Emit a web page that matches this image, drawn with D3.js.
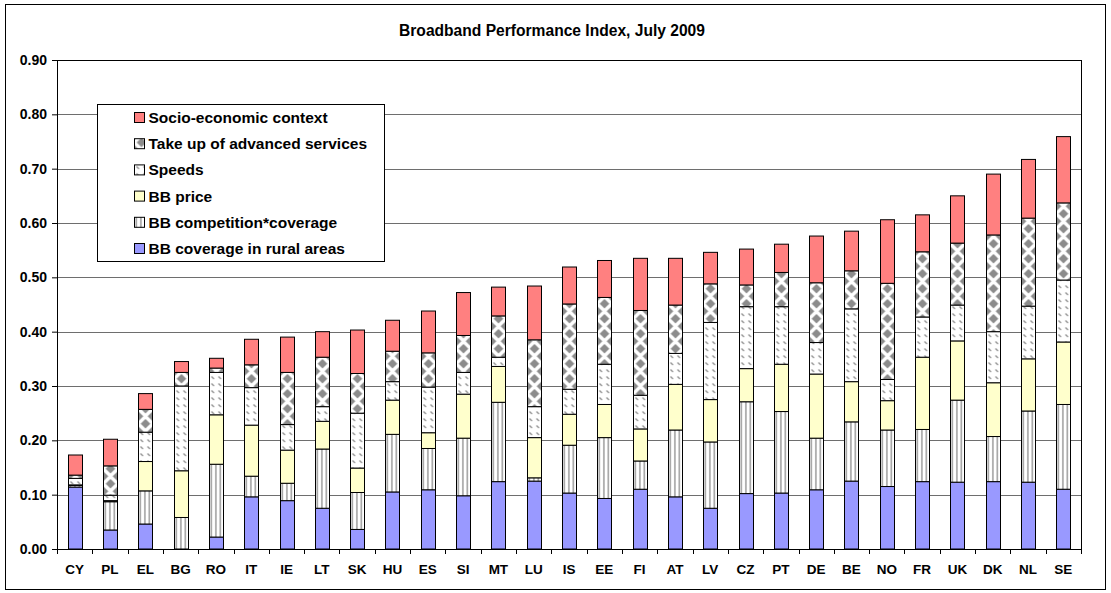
<!DOCTYPE html>
<html>
<head>
<meta charset="utf-8">
<script src="https://cdn.jsdelivr.net/npm/d3@7"></script>
<style>
  body { margin: 0; background: #fff; }
  svg text { font-family: "Liberation Sans", Arial, sans-serif; font-weight: bold; fill: #000; }
</style>
</head>
<body>
<div id="chart"></div>
<script>
// Values (stack order: bottom -> top)
const countries = ['CY','PL','EL','BG','RO','IT','IE','LT','SK','HU','ES','SI','MT','LU','IS',
  'EE','FI','AT','LV','CZ','PT','DE','BE','NO','FR','UK','DK','NL','SE'];
const ruralCoverage = [.114,.035,.046,.000,.022,.096,.089,.075,.036,.105,.109,.098,.124,.125,.103,
  .093,.110,.096,.075,.102,.103,.109,.125,.115,.124,.123,.124,.123,.110];
const competitionCoverage = [.003,.052,.061,.058,.134,.038,.032,.109,.068,.106,.076,.106,.146,.006,.088,
  .112,.052,.123,.122,.169,.150,.095,.109,.104,.096,.151,.083,.131,.156];
const bbPrice = [.001,.002,.054,.086,.091,.094,.061,.051,.045,.063,.029,.081,.066,.074,.057,
  .061,.059,.084,.078,.061,.087,.118,.074,.054,.133,.109,.099,.096,.115];
const speeds = [.012,.010,.054,.156,.078,.069,.047,.027,.101,.034,.084,.040,.017,.057,.046,
  .074,.062,.057,.142,.114,.106,.058,.134,.039,.074,.066,.094,.097,.114];
const takeUp = [.006,.054,.042,.025,.008,.042,.096,.091,.073,.056,.063,.068,.076,.123,.157,
  .123,.156,.089,.071,.040,.063,.110,.070,.177,.120,.114,.178,.162,.142];
const socioEconomic = [.037,.049,.029,.020,.018,.047,.065,.047,.080,.057,.077,.079,.053,.099,.068,
  .068,.096,.086,.058,.066,.052,.086,.073,.117,.068,.087,.112,.108,.122];

const seriesNames = ['BB coverage in rural areas','BB competition*coverage','BB price',
  'Speeds','Take up of advanced services','Socio-economic context'];
const yTicks = [0, .1, .2, .3, .4, .5, .6, .7, .8, .9];

class StackedBarChart {

  constructor(_config) {
    this.config = {
      parentElement: _config.parentElement,
      containerWidth: 1111,
      containerHeight: 593,
      margin: {top: 60, right: 30, bottom: 44, left: 57}
    };
    this.initVis();
  }

  initVis() {
    let vis = this;
    vis.width = vis.config.containerWidth - vis.config.margin.left - vis.config.margin.right;
    vis.height = vis.config.containerHeight - vis.config.margin.top - vis.config.margin.bottom;

    vis.keys = ['rural', 'comp', 'price', 'speeds', 'takeup', 'socio'];
    vis.fills = {
      rural: '#9999ff',
      comp: 'url(#pComp)',
      price: '#ffffcc',
      speeds: 'url(#pSpeeds)',
      takeup: 'url(#pTakeup)',
      socio: '#ff8080'
    };

    vis.xScale = d3.scaleBand().domain(countries).range([0, vis.width]);
    vis.yScale = d3.scaleLinear().domain([0, 0.9]).range([vis.height, 0]);

    vis.svg = d3.select(vis.config.parentElement).append('svg')
      .attr('width', vis.config.containerWidth)
      .attr('height', vis.config.containerHeight);

    // outer frame
    vis.svg.append('rect')
      .attr('x', 5.5).attr('y', 4.5)
      .attr('width', 1100).attr('height', 585)
      .attr('fill', 'none').attr('stroke', '#000');

    vis.svg.append('text')
      .attr('x', 552).attr('y', 36)
      .attr('text-anchor', 'middle')
      .attr('font-size', 15.6)
      .text('Broadband Performance Index, July 2009');

    const defs = vis.svg.append('defs');

    // vertical stripes
    const pc = defs.append('pattern').attr('id', 'pComp')
      .attr('patternUnits', 'userSpaceOnUse').attr('width', 4.5).attr('height', 4);
    pc.append('rect').attr('width', 4.5).attr('height', 4).attr('fill', '#fff');
    pc.append('rect').attr('x', 1.2).attr('width', 1.3).attr('height', 4).attr('fill', '#8c8c8c');

    // small diagonal dashes
    const ps = defs.append('pattern').attr('id', 'pSpeeds')
      .attr('patternUnits', 'userSpaceOnUse').attr('width', 7).attr('height', 7);
    ps.append('rect').attr('width', 7).attr('height', 7).attr('fill', '#fff');
    ps.append('line').attr('x1', 2).attr('y1', 1.5).attr('x2', 4.5).attr('y2', 4)
      .attr('stroke', '#8c8c8c').attr('stroke-width', 1.2);

    // diamonds
    const pt = defs.append('pattern').attr('id', 'pTakeup')
      .attr('patternUnits', 'userSpaceOnUse').attr('width', 14).attr('height', 15);
    pt.append('rect').attr('width', 14).attr('height', 15).attr('fill', '#fff');
    [[7, 3.75], [0, 11.25], [14, 11.25], [7, 18.75], [0, -3.75], [14, -3.75]].forEach(([cx, cy]) => {
      pt.append('path')
        .attr('d', `M${cx},${cy - 4.8}L${cx + 4.8},${cy}L${cx},${cy + 4.8}L${cx - 4.8},${cy}Z`)
        .attr('fill', '#8c8c8c');
    });

    vis.chartArea = vis.svg.append('g')
      .attr('transform', `translate(${vis.config.margin.left},${vis.config.margin.top})`);

    vis.gridG = vis.chartArea.append('g');
    vis.chart = vis.chartArea.append('g');
    vis.xAxisG = vis.chartArea.append('g').attr('transform', `translate(0,${vis.height})`);
    vis.yAxisG = vis.chartArea.append('g');
    vis.legendG = vis.svg.append('g').attr('transform', 'translate(97.5,104.5)');

    vis.updateVis();
  }

  updateVis() {
    let vis = this;
    vis.table = countries.map((c, i) => ({
      country: c,
      rural: ruralCoverage[i],
      comp: competitionCoverage[i],
      price: bbPrice[i],
      speeds: speeds[i],
      takeup: takeUp[i],
      socio: socioEconomic[i]
    }));
    vis.stacked = d3.stack().keys(vis.keys)(vis.table);
    vis.barWidth = 14;
    vis.renderVis();
  }

  renderVis() {
    let vis = this;
    const x = vis.xScale, y = vis.yScale;

    // horizontal gridlines
    vis.gridG.selectAll('.grid')
      .data(yTicks.slice(1))
      .join('line')
      .attr('class', 'grid')
      .attr('x1', 0).attr('x2', vis.width)
      .attr('y1', d => Math.round(y(d)) + 0.5).attr('y2', d => Math.round(y(d)) + 0.5)
      .attr('stroke', d => d === 0.9 ? '#000' : '#6e6e6e')
      .attr('stroke-width', 1);
    vis.gridG.append('line')
      .attr('x1', vis.width + 0.5).attr('x2', vis.width + 0.5)
      .attr('y1', 0).attr('y2', vis.height)
      .attr('stroke', '#000');

    // one group per country so the fill patterns line up with each bar
    const bars = vis.chart.selectAll('.bar')
      .data(vis.table)
      .join('g')
      .attr('class', 'bar')
      .attr('transform', d => `translate(${Math.round(x(d.country) + x.bandwidth() / 2 - vis.barWidth / 2) + 0.5},0)`);

    bars.selectAll('rect')
      .data((d, i) => vis.stacked.map(s => ({key: s.key, y0: s[i][0], y1: s[i][1]})).filter(s => s.y1 - s.y0 > 0.0005))
      .join('rect')
      .attr('x', 0)
      .attr('width', vis.barWidth)
      .attr('y', d => y(d.y1))
      .attr('height', d => y(d.y0) - y(d.y1))
      .attr('fill', d => vis.fills[d.key])
      .attr('stroke', '#000')
      .attr('stroke-width', 1);

    // x axis: labels at band centres, ticks at band edges
    vis.xAxisG.call(d3.axisBottom(x).tickSize(0).tickPadding(15))
      .call(g => g.select('.domain').attr('stroke', '#000'))
      .call(g => g.selectAll('.tick text')
        .attr('font-size', 13.5)
        .style('font-family', '"Liberation Sans", Arial, sans-serif')
        .style('font-weight', 'bold'));
    vis.xAxisG.selectAll('.edge')
      .data(countries.map(c => x(c)).concat([vis.width]))
      .join('line')
      .attr('class', 'edge')
      .attr('x1', d => Math.round(d) + 0.5).attr('x2', d => Math.round(d) + 0.5)
      .attr('y1', 0).attr('y2', 5)
      .attr('stroke', '#000');

    vis.yAxisG.call(d3.axisLeft(y).tickValues(yTicks).tickFormat(d3.format('.2f')).tickSize(5).tickPadding(5))
      .call(g => g.select('.domain').attr('stroke', '#000'))
      .call(g => g.selectAll('.tick line').attr('stroke', '#000'))
      .call(g => g.selectAll('.tick text')
        .attr('font-size', 14)
        .style('font-family', '"Liberation Sans", Arial, sans-serif')
        .style('font-weight', 'bold'));

    // legend
    vis.legendG.append('rect')
      .attr('width', 287).attr('height', 157)
      .attr('fill', '#fff').attr('stroke', '#000');
    const items = vis.keys.map((k, i) => ({key: k, name: seriesNames[i]})).reverse();
    const rows = vis.legendG.selectAll('.legend-item')
      .data(items)
      .join('g')
      .attr('class', 'legend-item')
      .attr('transform', (d, i) => `translate(37,${8 + i * 26.2})`);
    rows.append('rect')
      .attr('width', 10).attr('height', 10)
      .attr('fill', d => vis.fills[d.key])
      .attr('stroke', '#000');
    rows.append('text')
      .attr('x', 14).attr('y', 5)
      .attr('dy', '0.36em')
      .attr('font-size', 15.5)
      .text(d => d.name);
  }
}

new StackedBarChart({parentElement: '#chart'});
</script>
</body>
</html>
